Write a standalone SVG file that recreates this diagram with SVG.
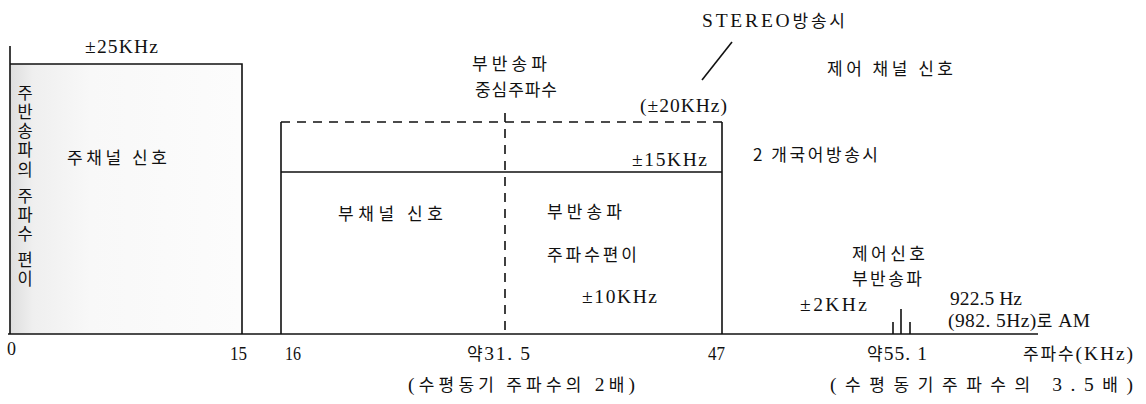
<svg xmlns="http://www.w3.org/2000/svg" width="1146" height="404" viewBox="0 0 1146 404">
<style>
.ln{stroke:#111;stroke-width:1.6;fill:none}
.ds{stroke:#111;stroke-width:1.6;fill:none;stroke-dasharray:9,7}
.t{font-family:"Liberation Serif","Noto Sans CJK KR",serif;font-size:19.5px;fill:#111}
.k{font-family:"Noto Sans CJK KR","Liberation Serif",sans-serif;font-size:17px;fill:#111}
.v{font-family:"Noto Sans CJK KR",sans-serif;font-size:16.5px;fill:#111;writing-mode:vertical-rl}
</style>
<defs>
<linearGradient id="sh" x1="0" y1="0" x2="1" y2="0">
<stop offset="0" stop-color="#dedede"/>
<stop offset="0.1" stop-color="#efefef"/>
<stop offset="0.35" stop-color="#f8f8f8"/>
<stop offset="1" stop-color="#fcfcfc"/>
</linearGradient>
</defs>
<rect width="1146" height="404" fill="#fff"/>
<g id="main-channel">
<rect x="10" y="64" width="231" height="270" fill="url(#sh)"/>
<path class="ln" d="M10 46 V334 M10 64 H242 V334"/>
<text class="t" x="85" y="53" textLength="73">±25KHz</text>
<text class="k" x="67" y="164" textLength="100">주채널 신호</text>
<text class="v" x="25" y="84" letter-spacing="2.8">주반송파의 주파수 편이</text>
</g>
<g id="sub-channel">
<path class="ds" d="M281 122 H722"/>
<path class="ln" d="M281 122 V334 M281 172 H722 M722 122 V334"/>
<path class="ds" d="M505 113 V334"/>
<text class="k" x="472" y="70" textLength="75">부반송파</text>
<text class="k" x="475" y="96" textLength="82">중심주파수</text>
<text class="t" x="640" y="112" textLength="87">(±20KHz)</text>
<text class="t" x="632" y="166" textLength="75">±15KHz</text>
<text class="k" x="338" y="220" textLength="105">부채널 신호</text>
<text class="k" x="547" y="218" textLength="75">부반송파</text>
<text class="k" x="547" y="261" textLength="90">주파수편이</text>
<text class="t" x="582" y="303" textLength="75">±10KHz</text>
</g>
<g id="stereo-label">
<path class="ln" d="M732 42 L702 80" stroke-width="1.4"/>
<text class="t" x="702" y="27" textLength="143">STEREO<tspan class="k">방송시</tspan></text>
<text class="k" x="827" y="75" textLength="126">제어 채널 신호</text>
<text class="k" x="753" y="161" textLength="125">2 개국어방송시</text>
</g>
<g id="control-channel">
<path class="ln" d="M893 322 V334 M901 309 V334 M910 322 V334" stroke-width="1.4"/>
<text class="k" x="852" y="260" textLength="73">제어신호</text>
<text class="k" x="852" y="285" textLength="70">부반송파</text>
<text class="t" x="800" y="311" textLength="67">±2KHz</text>
<text class="t" x="950" y="305" textLength="72">922.5 Hz</text>
<text class="t" x="948" y="327" textLength="142">(982. 5Hz)<tspan class="k">로</tspan> AM</text>
</g>
<g id="axis">
<path class="ln" d="M8 334 H1038"/>
<text class="t" x="7" y="355" textLength="9" lengthAdjust="spacingAndGlyphs">0</text>
<text class="t" x="230" y="360" textLength="17" lengthAdjust="spacingAndGlyphs">15</text>
<text class="t" x="285" y="360" textLength="16" lengthAdjust="spacingAndGlyphs">16</text>
<text class="t" x="467" y="360" textLength="63"><tspan class="k">약</tspan>31. 5</text>
<text class="t" x="708" y="360" textLength="17" lengthAdjust="spacingAndGlyphs">47</text>
<text class="t" x="867" y="360" textLength="60"><tspan class="k">약</tspan>55. 1</text>
<text class="t" x="1023" y="360" textLength="110"><tspan class="k">주파수</tspan>(KHz)</text>
<text class="t" x="408" y="391" textLength="227">(<tspan class="k">수평동기 주파수의</tspan> 2<tspan class="k">배</tspan>)</text>
<text class="t" x="830" y="391" textLength="303">(<tspan class="k">수평동기주파수의</tspan> 3.5<tspan class="k">배</tspan>)</text>
</g>
</svg>
